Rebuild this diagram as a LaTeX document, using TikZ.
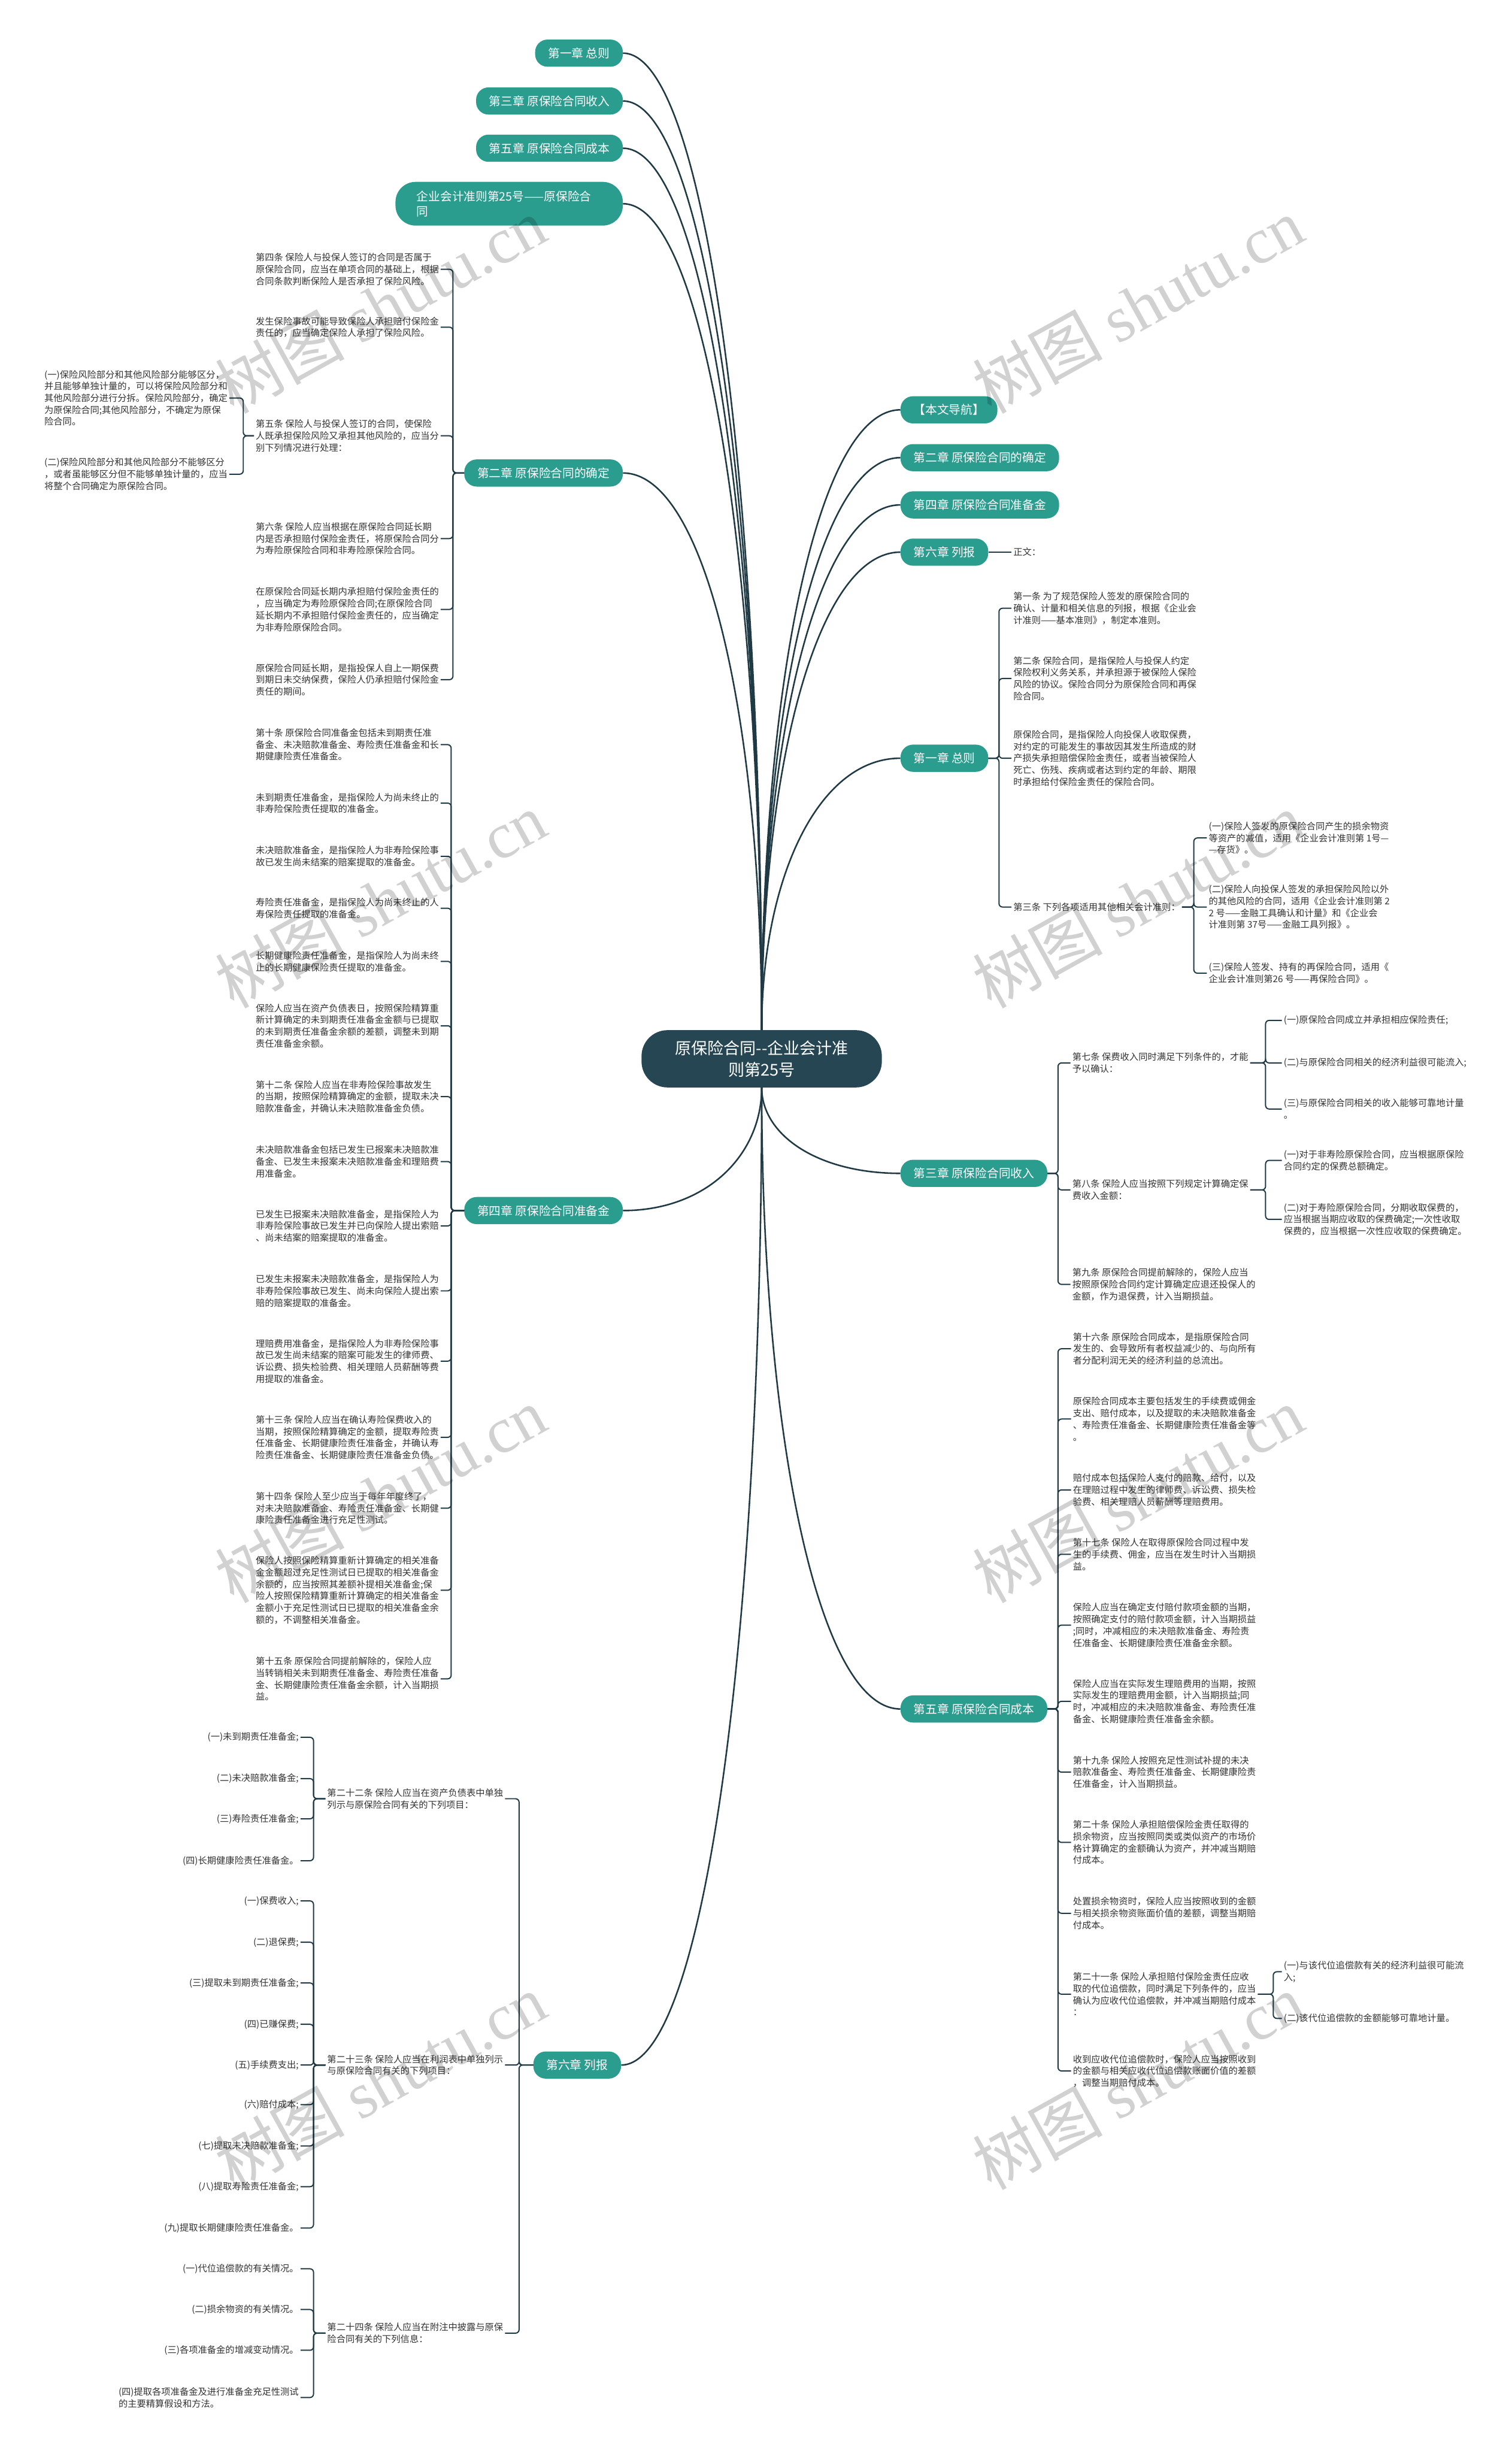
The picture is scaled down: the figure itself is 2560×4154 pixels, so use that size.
\documentclass[tikz,border=0pt]{standalone}
\usepackage{fontspec}
\setmainfont{Noto Sans CJK SC}
\newfontfamily\wmfont{Liberation Serif}
\usetikzlibrary{calc}
\definecolor{rootfill}{HTML}{264653}
\definecolor{chapfill}{HTML}{2A9D8F}
\definecolor{linkcol}{HTML}{1F3A45}
\definecolor{leaftext}{HTML}{333333}

% curved link from the root to a chapter
\newcommand{\rootlink}[2]{\draw[rootline] let \p1=(#1), \p2=(#2) in
  (\p1) .. controls (\x1,{\y1+0.55*(\y2-\y1)}) and ({\x2+0.6*(\x1-\x2)},\y2) .. (\p2);}
% bracket links to the right / to the left
\newcommand{\brR}[3]{\foreach \kid in {#3} \draw[brline] (#1.east) -- ++(#2,0) |- (\kid.west);}
\newcommand{\brL}[3]{\foreach \kid in {#3} \draw[brline] (#1.west) -- ++(-#2,0) |- (\kid.east);}

\begin{document}
\begin{tikzpicture}[
        x=1pt, y=-1pt,
        root/.style={fill=rootfill, text=white, font=\fontsize{27.5}{36}\selectfont, align=center,
                     rounded corners=44pt, minimum width=407pt, minimum height=97pt},
        chapter/.style={fill=chapfill, text=white, font=\fontsize{20}{25}\selectfont,
                        rounded corners=21pt, minimum height=46pt, inner xsep=22pt},
        leaf/.style={text=leaftext, font=\fontsize{15.5}{20}\selectfont, align=left, inner sep=3pt},
        rootline/.style={draw=linkcol, line width=2.6pt},
        brline/.style={draw=linkcol, line width=2pt, rounded corners=6pt},
        wmark/.style={rotate=29, font=\fontsize{110}{110}\selectfont, text=black, text opacity=0.18}
    ]
    \useasboundingbox[fill=white] (0,0) rectangle (2560,4154);

    % Root
    \node [root] (root) at (1290,1793) {原保险合同{-}{-}企业会计准\\则第25号};

    % Chapters, left
    \node [chapter, anchor=east] (cL1) at (1055,90) {第一章 总则};
    \node [chapter, anchor=east] (cL3) at (1055,171) {第三章 原保险合同收入};
    \node [chapter, anchor=east] (cL5) at (1055,251) {第五章 原保险合同成本};
    \node [chapter, anchor=east, align=left, text width=313pt, inner xsep=36pt,
           rounded corners=34pt, minimum height=74pt] (cLq) at (1055,345) {企业会计准则第25号——原保险合\\同};
    \node [chapter, anchor=east] (cL2) at (1055,801) {第二章 原保险合同的确定};
    \node [chapter, anchor=east] (cL4) at (1055,2050) {第四章 原保险合同准备金};
    \node [chapter, anchor=east] (cL6) at (1052,3497) {第六章 列报};

    % Chapters, right
    \node [chapter, anchor=west] (cRnav) at (1525,694) {【本文导航】};
    \node [chapter, anchor=west] (cR2) at (1525,775) {第二章 原保险合同的确定};
    \node [chapter, anchor=west] (cR4) at (1525,855) {第四章 原保险合同准备金};
    \node [chapter, anchor=west] (cR6) at (1525,935) {第六章 列报};
    \node [chapter, anchor=west] (cR1) at (1525,1284) {第一章 总则};
    \node [chapter, anchor=west] (cR3) at (1525,1987) {第三章 原保险合同收入};
    \node [chapter, anchor=west] (cR5) at (1525,2894) {第五章 原保险合同成本};

    % Right: 第六章
    \node [leaf, anchor=west] (r6a) at (1713,935) {正文：};

    % Right: 第一章
    \node [leaf, anchor=west] (r1a) at (1713,1030) {第一条 为了规范保险人签发的原保险合同的\\确认、计量和相关信息的列报，根据《企业会\\计准则——基本准则》，制定本准则。};
    \node [leaf, anchor=west] (r1b) at (1713,1149) {第二条 保险合同，是指保险人与投保人约定\\保险权利义务关系，并承担源于被保险人保险\\风险的协议。保险合同分为原保险合同和再保\\险合同。};
    \node [leaf, anchor=west] (r1c) at (1713,1284) {原保险合同，是指保险人向投保人收取保费，\\对约定的可能发生的事故因其发生所造成的财\\产损失承担赔偿保险金责任，或者当被保险人\\死亡、伤残、疾病或者达到约定的年龄、期限\\时承担给付保险金责任的保险合同。};
    \node [leaf, anchor=west] (r1d) at (1713,1536) {第三条 下列各项适用其他相关会计准则：};
    \node [leaf, anchor=west] (r1d1) at (2044,1419) {(一)保险人签发的原保险合同产生的损余物资\\等资产的减值，适用《企业会计准则第 1号—\\—存货》。};
    \node [leaf, anchor=west] (r1d2) at (2044,1536) {(二)保险人向投保人签发的承担保险风险以外\\的其他风险的合同，适用《企业会计准则第 2\\2 号——金融工具确认和计量》和《企业会\\计准则第 37号——金融工具列报》。};
    \node [leaf, anchor=west] (r1d3) at (2044,1648) {(三)保险人签发、持有的再保险合同，适用《\\企业会计准则第26 号——再保险合同》。};

    % Right: 第三章
    \node [leaf, anchor=west] (r3a) at (1813,1800) {第七条 保费收入同时满足下列条件的，才能\\予以确认：};
    \node [leaf, anchor=west] (r3a1) at (2171,1728) {(一)原保险合同成立并承担相应保险责任;};
    \node [leaf, anchor=west] (r3a2) at (2171,1800) {(二)与原保险合同相关的经济利益很可能流入;};
    \node [leaf, anchor=west] (r3a3) at (2171,1878) {(三)与原保险合同相关的收入能够可靠地计量\\。};
    \node [leaf, anchor=west] (r3b) at (1813,2015) {第八条 保险人应当按照下列规定计算确定保\\费收入金额：};
    \node [leaf, anchor=west] (r3b1) at (2171,1965) {(一)对于非寿险原保险合同，应当根据原保险\\合同约定的保费总额确定。};
    \node [leaf, anchor=west] (r3b2) at (2171,2065) {(二)对于寿险原保险合同，分期收取保费的，\\应当根据当期应收取的保费确定;一次性收取\\保费的，应当根据一次性应收取的保费确定。};
    \node [leaf, anchor=west] (r3c) at (1813,2175) {第九条 原保险合同提前解除的，保险人应当\\按照原保险合同约定计算确定应退还投保人的\\金额，作为退保费，计入当期损益。};

    % Right: 第五章
    \node [leaf, anchor=west] (r5a) at (1814,2284) {第十六条 原保险合同成本，是指原保险合同\\发生的、会导致所有者权益减少的、与向所有\\者分配利润无关的经济利益的总流出。};
    \node [leaf, anchor=west] (r5b) at (1814,2403) {原保险合同成本主要包括发生的手续费或佣金\\支出、赔付成本，以及提取的未决赔款准备金\\、寿险责任准备金、长期健康险责任准备金等\\。};
    \node [leaf, anchor=west] (r5c) at (1814,2523) {赔付成本包括保险人支付的赔款、给付，以及\\在理赔过程中发生的律师费、诉讼费、损失检\\验费、相关理赔人员薪酬等理赔费用。};
    \node [leaf, anchor=west] (r5d) at (1814,2632) {第十七条 保险人在取得原保险合同过程中发\\生的手续费、佣金，应当在发生时计入当期损\\益。};
    \node [leaf, anchor=west] (r5e) at (1814,2752) {保险人应当在确定支付赔付款项金额的当期，\\按照确定支付的赔付款项金额，计入当期损益\\;同时，冲减相应的未决赔款准备金、寿险责\\任准备金、长期健康险责任准备金余额。};
    \node [leaf, anchor=west] (r5f) at (1814,2881) {保险人应当在实际发生理赔费用的当期，按照\\实际发生的理赔费用金额，计入当期损益;同\\时，冲减相应的未决赔款准备金、寿险责任准\\备金、长期健康险责任准备金余额。};
    \node [leaf, anchor=west] (r5g) at (1814,3001) {第十九条 保险人按照充足性测试补提的未决\\赔款准备金、寿险责任准备金、长期健康险责\\任准备金，计入当期损益。};
    \node [leaf, anchor=west] (r5h) at (1814,3120) {第二十条 保险人承担赔偿保险金责任取得的\\损余物资，应当按照同类或类似资产的市场价\\格计算确定的金额确认为资产，并冲减当期赔\\付成本。};
    \node [leaf, anchor=west] (r5i) at (1814,3240) {处置损余物资时，保险人应当按照收到的金额\\与相关损余物资账面价值的差额，调整当期赔\\付成本。};
    \node [leaf, anchor=west] (r5j) at (1814,3377) {第二十一条 保险人承担赔付保险金责任应收\\取的代位追偿款，同时满足下列条件的，应当\\确认为应收代位追偿款，并冲减当期赔付成本\\：};
    \node [leaf, anchor=west] (r5j1) at (2171,3339) {(一)与该代位追偿款有关的经济利益很可能流\\入;};
    \node [leaf, anchor=west] (r5j2) at (2171,3418) {(二)该代位追偿款的金额能够可靠地计量。};
    \node [leaf, anchor=west] (r5k) at (1814,3507) {收到应收代位追偿款时，保险人应当按照收到\\的金额与相关应收代位追偿款账面价值的差额\\，调整当期赔付成本。};

    % Left: 第二章
    \node [leaf, anchor=west] (l2a) at (430,456) {第四条 保险人与投保人签订的合同是否属于\\原保险合同，应当在单项合同的基础上，根据\\合同条款判断保险人是否承担了保险风险。};
    \node [leaf, anchor=west] (l2b) at (430,554) {发生保险事故可能导致保险人承担赔付保险金\\责任的，应当确定保险人承担了保险风险。};
    \node [leaf, anchor=west] (l2c) at (430,738) {第五条 保险人与投保人签订的合同，使保险\\人既承担保险风险又承担其他风险的，应当分\\别下列情况进行处理：};
    \node [leaf, anchor=west] (l2c1) at (72,674) {(一)保险风险部分和其他风险部分能够区分，\\并且能够单独计量的，可以将保险风险部分和\\其他风险部分进行分拆。保险风险部分，确定\\为原保险合同;其他风险部分，不确定为原保\\险合同。};
    \node [leaf, anchor=west] (l2c2) at (72,803) {(二)保险风险部分和其他风险部分不能够区分\\，或者虽能够区分但不能够单独计量的，应当\\将整个合同确定为原保险合同。};
    \node [leaf, anchor=west] (l2d) at (430,912) {第六条 保险人应当根据在原保险合同延长期\\内是否承担赔付保险金责任，将原保险合同分\\为寿险原保险合同和非寿险原保险合同。};
    \node [leaf, anchor=west] (l2e) at (430,1032) {在原保险合同延长期内承担赔付保险金责任的\\，应当确定为寿险原保险合同;在原保险合同\\延长期内不承担赔付保险金责任的，应当确定\\为非寿险原保险合同。};
    \node [leaf, anchor=west] (l2f) at (430,1151) {原保险合同延长期，是指投保人自上一期保费\\到期日未交纳保费，保险人仍承担赔付保险金\\责任的期间。};

    % Left: 第四章
    \node [leaf, anchor=west] (l4a) at (430,1261) {第十条 原保险合同准备金包括未到期责任准\\备金、未决赔款准备金、寿险责任准备金和长\\期健康险责任准备金。};
    \node [leaf, anchor=west] (l4b) at (430,1360) {未到期责任准备金，是指保险人为尚未终止的\\非寿险保险责任提取的准备金。};
    \node [leaf, anchor=west] (l4c) at (430,1450) {未决赔款准备金，是指保险人为非寿险保险事\\故已发生尚未结案的赔案提取的准备金。};
    \node [leaf, anchor=west] (l4d) at (430,1538) {寿险责任准备金，是指保险人为尚未终止的人\\寿保险责任提取的准备金。};
    \node [leaf, anchor=west] (l4e) at (430,1628) {长期健康险责任准备金，是指保险人为尚未终\\止的长期健康保险责任提取的准备金。};
    \node [leaf, anchor=west] (l4f) at (430,1737) {保险人应当在资产负债表日，按照保险精算重\\新计算确定的未到期责任准备金金额与已提取\\的未到期责任准备金余额的差额，调整未到期\\责任准备金余额。};
    \node [leaf, anchor=west] (l4g) at (430,1857) {第十二条 保险人应当在非寿险保险事故发生\\的当期，按照保险精算确定的金额，提取未决\\赔款准备金，并确认未决赔款准备金负债。};
    \node [leaf, anchor=west] (l4h) at (430,1967) {未决赔款准备金包括已发生已报案未决赔款准\\备金、已发生未报案未决赔款准备金和理赔费\\用准备金。};
    \node [leaf, anchor=west] (l4i) at (430,2076) {已发生已报案未决赔款准备金，是指保险人为\\非寿险保险事故已发生并已向保险人提出索赔\\、尚未结案的赔案提取的准备金。};
    \node [leaf, anchor=west] (l4j) at (430,2186) {已发生未报案未决赔款准备金，是指保险人为\\非寿险保险事故已发生、尚未向保险人提出索\\赔的赔案提取的准备金。};
    \node [leaf, anchor=west] (l4k) at (430,2305) {理赔费用准备金，是指保险人为非寿险保险事\\故已发生尚未结案的赔案可能发生的律师费、\\诉讼费、损失检验费、相关理赔人员薪酬等费\\用提取的准备金。};
    \node [leaf, anchor=west] (l4l) at (430,2434) {第十三条 保险人应当在确认寿险保费收入的\\当期，按照保险精算确定的金额，提取寿险责\\任准备金、长期健康险责任准备金，并确认寿\\险责任准备金、长期健康险责任准备金负债。};
    \node [leaf, anchor=west] (l4m) at (430,2554) {第十四条 保险人至少应当于每年年度终了，\\对未决赔款准备金、寿险责任准备金、长期健\\康险责任准备金进行充足性测试。};
    \node [leaf, anchor=west] (l4n) at (430,2693) {保险人按照保险精算重新计算确定的相关准备\\金金额超过充足性测试日已提取的相关准备金\\余额的，应当按照其差额补提相关准备金;保\\险人按照保险精算重新计算确定的相关准备金\\金额小于充足性测试日已提取的相关准备金余\\额的，不调整相关准备金。};
    \node [leaf, anchor=west] (l4o) at (430,2843) {第十五条 原保险合同提前解除的，保险人应\\当转销相关未到期责任准备金、寿险责任准备\\金、长期健康险责任准备金余额，计入当期损\\益。};

    % Left: 第六章
    \node [leaf, anchor=west] (l6a) at (551,3046) {第二十二条 保险人应当在资产负债表中单独\\列示与原保险合同有关的下列项目：};
    \node [leaf, anchor=west] (l6b) at (551,3497) {第二十三条 保险人应当在利润表中单独列示\\与原保险合同有关的下列项目：};
    \node [leaf, anchor=west] (l6c) at (551,3951) {第二十四条 保险人应当在附注中披露与原保\\险合同有关的下列信息：};
    \node [leaf, anchor=east] (l6a1) at (509,2942) {(一)未到期责任准备金;};
    \node [leaf, anchor=east] (l6a2) at (509,3012) {(二)未决赔款准备金;};
    \node [leaf, anchor=east] (l6a3) at (509,3080) {(三)寿险责任准备金;};
    \node [leaf, anchor=east] (l6a4) at (509,3151) {(四)长期健康险责任准备金。};
    \node [leaf, anchor=east] (l6b1) at (509,3219) {(一)保费收入;};
    \node [leaf, anchor=east] (l6b2) at (509,3289) {(二)退保费;};
    \node [leaf, anchor=east] (l6b3) at (509,3358) {(三)提取未到期责任准备金;};
    \node [leaf, anchor=east] (l6b4) at (509,3428) {(四)已赚保费;};
    \node [leaf, anchor=east] (l6b5) at (509,3497) {(五)手续费支出;};
    \node [leaf, anchor=east] (l6b6) at (509,3564) {(六)赔付成本;};
    \node [leaf, anchor=east] (l6b7) at (509,3634) {(七)提取未决赔款准备金;};
    \node [leaf, anchor=east] (l6b8) at (509,3703) {(八)提取寿险责任准备金;};
    \node [leaf, anchor=east] (l6b9) at (509,3773) {(九)提取长期健康险责任准备金。};
    \node [leaf, anchor=east] (l6c1) at (509,3842) {(一)代位追偿款的有关情况。};
    \node [leaf, anchor=east] (l6c2) at (509,3911) {(二)损余物资的有关情况。};
    \node [leaf, anchor=east] (l6c3) at (509,3980) {(三)各项准备金的增减变动情况。};
    \node [leaf, anchor=east] (l6c4) at (509,4060) {(四)提取各项准备金及进行准备金充足性测试\\的主要精算假设和方法。};

    % Root links
    \foreach \nd in {cL1,cL3,cL5,cLq,cL2} \rootlink{root.north}{\nd.east};
    \foreach \nd in {cRnav,cR2,cR4,cR6,cR1} \rootlink{root.north}{\nd.west};
    \foreach \nd in {cL4,cL6} \rootlink{root.south}{\nd.east};
    \foreach \nd in {cR3,cR5} \rootlink{root.south}{\nd.west};

    % Brackets
    \draw [brline] (cR6.east) -- (r6a.west);
    \brR{cR1}{18}{r1a,r1b,r1c,r1d}
    \brR{r1d}{20}{r1d1,r1d2,r1d3}
    \brR{cR3}{18}{r3a,r3b,r3c}
    \brR{r3a}{26}{r3a1,r3a2,r3a3}
    \brR{r3b}{26}{r3b1,r3b2}
    \brR{cR5}{18}{r5a,r5b,r5c,r5d,r5e,r5f,r5g,r5h,r5i,r5j,r5k}
    \brR{r5j}{26}{r5j1,r5j2}
    \brL{cL2}{19}{l2a,l2b,l2c,l2d,l2e,l2f}
    \brL{l2c}{18}{l2c1,l2c2}
    \brL{cL4}{22}{l4a,l4b,l4c,l4d,l4e,l4f,l4g,l4h,l4i,l4j,l4k,l4l,l4m,l4n,l4o}
    \brL{cL6}{24}{l6a,l6b,l6c}
    \brL{l6a}{20}{l6a1,l6a2,l6a3,l6a4}
    \brL{l6b}{20}{l6b1,l6b2,l6b3,l6b4,l6b5,l6b6,l6b7,l6b8,l6b9}
    \brL{l6c}{20}{l6c1,l6c2,l6c3,l6c4}

    % Watermarks
    \foreach \wx in {644,1927}
      \foreach \wy in {517,1524,2531,3525}
        \node [wmark] (wm-\wx-\wy) at (\wx,\wy) {树图 {\wmfont shutu.cn}};

\end{tikzpicture}
\end{document}
